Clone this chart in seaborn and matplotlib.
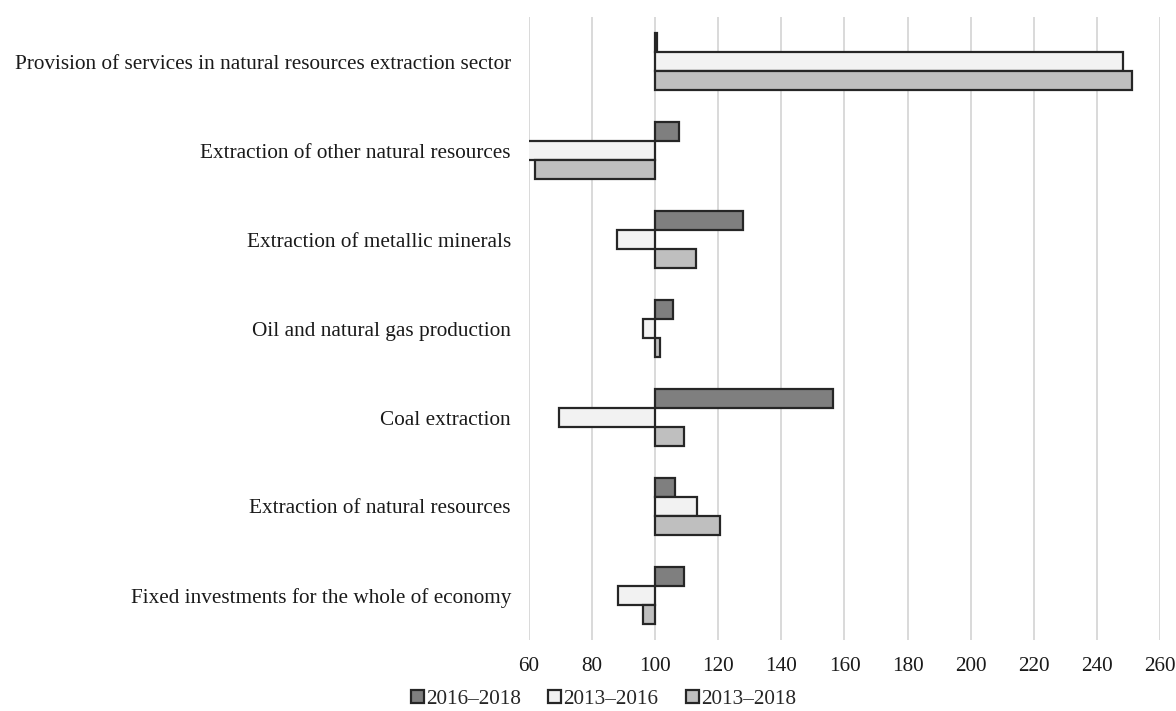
import matplotlib
matplotlib.use("Agg")
import matplotlib.pyplot as plt
import seaborn as sns
import pandas as pd
from matplotlib.patches import Patch

# Index values (base = 100) by activity and period
categories = [
    "Provision of services in natural resources extraction sector",
    "Extraction of other natural resources",
    "Extraction of metallic minerals",
    "Oil and natural gas production",
    "Coal extraction",
    "Extraction of natural resources",
    "Fixed investments for the whole of economy",
]
periods = ["2016\u20132018", "2013\u20132016", "2013\u20132018"]
v_2016_2018 = [100.7, 107.6, 127.9, 105.5, 156.3, 106.3, 109.1]
v_2013_2016 = [248.2, 52.0, 87.9, 96.1, 69.6, 113.3, 88.3]
v_2013_2018 = [251.0, 61.9, 113.0, 101.4, 109.0, 120.7, 96.1]
xticks = [60, 80, 100, 120, 140, 160, 180, 200, 220, 240, 260]
BASE = 100

colors = ["#7f7f7f", "#f2f2f2", "#bfbfbf"]
edge = "#262626"

df = pd.DataFrame({
    "category": categories * 3,
    "period": [p for p in periods for _ in categories],
    "value": v_2016_2018 + v_2013_2016 + v_2013_2018,
})

sns.set_theme(style="white")
plt.rcParams["font.family"] = ["Liberation Serif", "DejaVu Serif"]

fig = plt.figure(figsize=(11.76, 7.11), dpi=100)
ax = fig.add_axes([0.4498, 0.0999, 0.9864 - 0.4498, 0.976 - 0.0999])

sns.barplot(
    data=df, x="value", y="category", hue="period",
    order=categories, hue_order=periods, palette=colors,
    orient="h", width=0.64, gap=0, errorbar=None,
    edgecolor=edge, linewidth=1.6, legend=False, ax=ax,
)

# Bars grow from the base index of 100 rather than from zero
for patch in ax.patches:
    val = patch.get_x() + patch.get_width()
    patch.set_x(BASE)
    patch.set_width(val - BASE)

ax.set_xlim(60, 260)
ax.set_xticks(xticks)
ax.set_xticklabels([str(t) for t in xticks])
ax.set_ylim(len(categories) - 0.5, -0.5)
ax.set_xlabel("")
ax.set_ylabel("")
ax.grid(axis="x", color="#d9d9d9", linewidth=1.4)
ax.grid(axis="y", visible=False)
ax.set_axisbelow(True)
for s in ax.spines.values():
    s.set_visible(False)
ax.tick_params(axis="both", length=0, labelsize=15.3, colors="#1a1a1a")
ax.tick_params(axis="y", pad=13)
ax.tick_params(axis="x", pad=12)

handles = [Patch(facecolor=c, edgecolor=edge, linewidth=1.6) for c in colors]
fig.legend(
    handles, periods, loc="center", bbox_to_anchor=(0.513, 0.016), ncol=3,
    frameon=False, fontsize=15.3, handlelength=0.6, handleheight=0.6,
    handletextpad=0.1, columnspacing=1.3, borderpad=0,
)

fig.savefig("out.png", dpi=100)
